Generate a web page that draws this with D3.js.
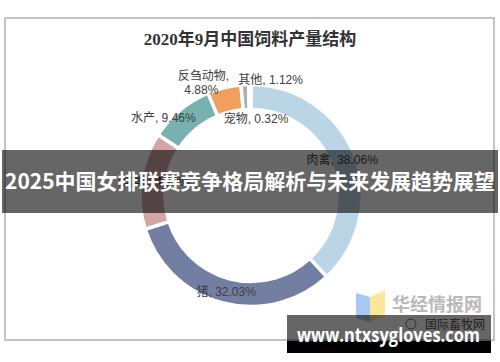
<!DOCTYPE html>
<html>
<head>
<meta charset="utf-8">
<script src="https://cdn.jsdelivr.net/npm/d3@7"></script>
<style>
  body { margin: 0; background: #fff; }
  svg { display: block; }
</style>
</head>
<body>
<div id="chart"></div>
<script>
// feed structure, Sept 2020 (percent)
const categories = ['肉禽', '猪', '蛋禽', '水产', '反刍动物', '其他', '宠物'];
const values = [38.06, 32.03, 14.13, 9.46, 4.88, 1.12, 0.32];
const colors = ['#b9d5e6', '#737ea3', '#d4a5a6', '#79b1b1', '#f0a05c', '#a9b0b3', '#c3dbea'];
// label nudges from the slice centroid (excel moved the crowded ones)
const labelShift = [[0, 4], [0, 6], [0, 4], [-25, 2], [-24, -20], [25, -14], [6, 25]];

const width = 500, height = 362;
const cx = 251, cy = 195.5;
const outerR = 111, innerR = 86;

const svg = d3.select('#chart').append('svg').attr('width', width).attr('height', height);

// chart frame
svg.append('rect')
  .attr('x', 5).attr('y', 18)
  .attr('width', 489).attr('height', 322)
  .attr('fill', '#fff')
  .attr('stroke', '#c4c4c4')
  .attr('stroke-width', 2);

svg.append('text')
  .attr('x', 250).attr('y', 45)
  .attr('text-anchor', 'middle')
  .style('font-family', '"Liberation Serif", "Noto Sans CJK SC", serif')
  .style('font-weight', 'bold')
  .style('font-size', '17px')
  .style('fill', '#333')
  .text('2020年9月中国饲料产量结构');

const pie = d3.pie().sort(null).value(d => d.v);
const arcs = pie(values.map((v, i) => ({ v, name: categories[i], i })));
const arc = d3.arc().innerRadius(innerR).outerRadius(outerR);
const labelArc = d3.arc().innerRadius(98).outerRadius(98);

const g = svg.append('g').attr('transform', `translate(${cx},${cy})`);

g.selectAll('path')
  .data(arcs)
  .enter()
  .append('path')
  .attr('d', arc)
  .attr('fill', d => colors[d.data.i])
  .attr('stroke', '#fff')
  .attr('stroke-width', 3.5);

const fmt = d3.format('.2f');
const labels = g.selectAll('text')
  .data(arcs)
  .enter()
  .append('text')
  .attr('text-anchor', 'middle')
  .style('font-family', '"Liberation Sans", "Noto Sans CJK SC", sans-serif')
  .style('font-size', '12px')
  .style('fill', '#404040')
  .attr('transform', d => {
    const c = labelArc.centroid(d);
    const s = labelShift[d.data.i];
    return `translate(${c[0] + s[0]},${c[1] + s[1]})`;
  });

labels.each(function (d) {
  const t = d3.select(this);
  if (d.data.name === '反刍动物') {
    // excel wrapped this one onto two lines
    t.append('tspan').attr('x', 0).attr('dy', 0).text(d.data.name + ',');
    t.append('tspan').attr('x', -2).attr('dy', 14).text(fmt(d.data.v) + '%');
  } else {
    t.text(`${d.data.name}, ${fmt(d.data.v)}%`);
  }
});

// watermark: logo + site name
const wm = svg.append('g');
wm.append('path').attr('d', 'M356,293 L370,297 L370,322 L356,318 Z').attr('fill', '#a6c8f2');
wm.append('path').attr('d', 'M370,297 L385,290 L385,315 L370,322 Z').attr('fill', '#fbe79a');
wm.append('text')
  .attr('x', 392).attr('y', 311)
  .style('font-family', '"Noto Sans CJK SC", sans-serif')
  .style('font-size', '18px')
  .style('font-weight', 'bold')
  .style('fill', '#b9b9b9')
  .text('华经情报网');
wm.append('circle').attr('cx', 411).attr('cy', 324).attr('r', 5).attr('fill', 'none').attr('stroke', '#777');
wm.append('text')
  .attr('x', 425).attr('y', 329)
  .style('font-family', '"Noto Sans CJK SC", sans-serif')
  .style('font-size', '12px')
  .style('fill', '#555')
  .text('国际畜牧网');

// overlay banner across the middle
svg.append('rect')
  .attr('x', 2).attr('y', 150)
  .attr('width', 496).attr('height', 63)
  .attr('fill', 'rgba(0,0,0,0.6)');
svg.append('text')
  .attr('x', 250).attr('y', 189)
  .attr('text-anchor', 'middle')
  .attr('textLength', 490)
  .attr('lengthAdjust', 'spacingAndGlyphs')
  .style('font-family', '"Noto Sans CJK SC", sans-serif')
  .style('font-weight', 'bold')
  .style('font-size', '21px')
  .style('fill', '#fff')
  .text('2025中国女排联赛竞争格局解析与未来发展趋势展望');

// url box bottom right
svg.append('rect')
  .attr('x', 287).attr('y', 315)
  .attr('width', 204).attr('height', 26)
  .attr('fill', 'rgba(0,0,0,0.6)');
svg.append('rect')
  .attr('x', 287).attr('y', 341)
  .attr('width', 204).attr('height', 12)
  .attr('fill', '#000');
svg.append('text')
  .attr('x', 297).attr('y', 342)
  .attr('textLength', 183)
  .attr('lengthAdjust', 'spacingAndGlyphs')
  .style('font-family', '"Open Sans", "DejaVu Sans", sans-serif')
  .style('font-weight', 'bold')
  .style('font-size', '19px')
  .style('fill', '#fff')
  .text('www.ntxsygloves.com');
</script>
</body>
</html>
